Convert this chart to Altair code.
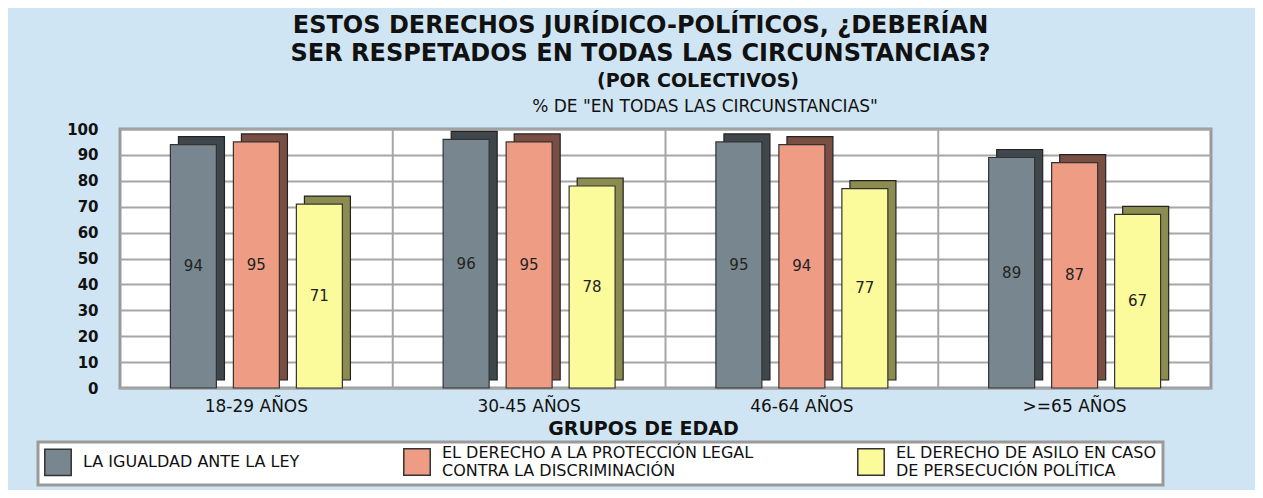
import json
import altair as alt
import pandas as pd

# ---- data -------------------------------------------------------------
groups = ["18-29 años", "30-45 años", "46-64 años", ">=65 años"]
series = [
    "La igualdad ante la ley",
    "El derecho a la protección legal contra la discriminación",
    "El derecho de asilo en caso de persecución política",
]
series_lines = [
    ["La igualdad ante la ley"],
    ["El derecho a la protección legal", "contra la discriminación"],
    ["El derecho de asilo en caso", "de persecución política"],
]
igualdad = [94, 96, 95, 89]
proteccion = [95, 95, 94, 87]
asilo = [71, 78, 77, 67]

title_lines = ["Estos derechos jurídico-políticos, ¿deberían",
               "ser respetados en todas las circunstancias?"]
subtitle_1 = ["(Por colectivos)"]
subtitle_2 = ['% de "en todas las circunstancias"']
x_title = "Grupos de edad"

# ---- styling ----------------------------------------------------------
FONT = "DejaVu Sans"
front_colors = ["#78878f", "#ee9c84", "#fbfb9c"]
shade_colors = ["#3f474c", "#7a4f43", "#8c8c50"]
grid_color = "#a6a6a6"

rows = []
for s, vals in zip(series, [igualdad, proteccion, asilo]):
    for g, v in zip(groups, vals):
        rows.append({"grupo": g, "serie": s, "valor": v})
df = pd.DataFrame(rows)

label_expr_parts = []
for name, lines in zip(series, series_lines):
    label_expr_parts.append(
        f"datum.label == {json.dumps(name)} ? {json.dumps([l.upper() for l in lines])}")
legend_label_expr = " : ".join(label_expr_parts) + " : datum.label"
single_line = [n for n, l in zip(series, series_lines) if len(l) == 1]
baseline_signal = (f"datum && indexof({json.dumps(single_line)}, datum.value) >= 0"
                   " ? 'middle' : 'line-bottom'")

x_axis = alt.Axis(
    title=x_title.upper(), labelExpr="upper(datum.label)", labelAngle=0,
    bandPosition=0.46,
    labelFont=FONT, labelFontSize=17, labelColor="#111", labelPadding=10,
    titleFont=FONT, titleFontSize=19, titleFontWeight="bold", titleColor="#111",
    titlePadding=5, titleX=523, ticks=False, domain=False, grid=False,
)
x_enc = alt.X("grupo:N", sort=groups,
              scale=alt.Scale(paddingInner=0, paddingOuter=0), axis=x_axis)
xoff_enc = alt.XOffset("serie:N", sort=series,
                       scale=alt.Scale(paddingInner=0.27, paddingOuter=0.8))
xoff_shadow = alt.XOffset("serie:N", sort=series,
                          scale=alt.Scale(paddingInner=0.27, paddingOuter=0.8,
                                          align=0.58))
y_axis = alt.Axis(
    title=None, values=list(range(0, 101, 10)), labelFont=FONT,
    labelFontSize=15, labelFontWeight="bold", labelColor="#111",
    labelPadding=22, labelOverlap=False, ticks=False, domain=False,
    grid=True, gridColor=grid_color, gridWidth=2,
)
y_scale = alt.Scale(domain=[0, 100], nice=False)
y_enc = alt.Y("valor:Q", scale=y_scale, axis=y_axis)

base = alt.Chart(df)

rules = alt.Chart(pd.DataFrame({"grupo": groups[1:]})).mark_rule(
    color=grid_color, strokeWidth=2
).encode(x=alt.X("grupo:N", sort=groups, bandPosition=0,
                 scale=alt.Scale(paddingInner=0, paddingOuter=0), axis=x_axis))

shadow = base.mark_bar(yOffset=-8, stroke="#222", strokeWidth=1.2).encode(
    x=x_enc, xOffset=xoff_shadow, y=y_enc,
    color=alt.Color("serie:N", sort=series,
                    scale=alt.Scale(domain=series, range=shade_colors), legend=None),
)

front = base.mark_bar(stroke="#333", strokeWidth=1.2).encode(
    x=x_enc, xOffset=xoff_enc, y=y_enc,
    color=alt.Color(
        "serie:N", sort=series, scale=alt.Scale(domain=series, range=front_colors),
        legend=alt.Legend(
            title=None, orient="none", legendX=-82, legendY=313,
            direction="horizontal", columns=3, fillColor="white",
            strokeColor="#9a9a9a", padding=6,
            symbolType="square", symbolSize=700, symbolStrokeColor="#333",
            symbolStrokeWidth=1.5, symbolOpacity=1,
            labelFont=FONT, labelFontSize=16, labelColor="#111",
            labelOffset=11, columnPadding=100, labelLimit=600,
            labelBaseline={"expr": baseline_signal},
            labelExpr=legend_label_expr,
        ),
    ),
)

values = base.mark_text(font=FONT, fontSize=15, color="#222").transform_calculate(
    mid="datum.valor / 2"
).encode(
    x=x_enc, xOffset=xoff_enc,
    y=alt.Y("mid:Q", scale=y_scale, axis=y_axis),
    text=alt.Text("valor:Q"),
)

sub1 = alt.Chart(pd.DataFrame({"t": [s.upper() for s in subtitle_1]})).mark_text(
    font=FONT, fontSize=19, fontWeight="bold", color="#111"
).encode(x=alt.value(578), y=alt.value(-48), text="t:N")

sub2 = alt.Chart(pd.DataFrame({"t": [s.upper() for s in subtitle_2]})).mark_text(
    font=FONT, fontSize=17, color="#111"
).encode(x=alt.value(585), y=alt.value(-22), text="t:N")

front_group = alt.layer(front, values)

chart = alt.layer(rules, shadow, front_group, sub1, sub2).resolve_scale(
    xOffset="independent", color="independent"
).properties(
    width=1091, height=259,
    padding={"left": 112, "top": 121, "right": 44, "bottom": 102},
    autosize=alt.AutoSizeParams(type="none"),
    title=alt.TitleParams(
        text=[t.upper() for t in title_lines], font=FONT, fontSize=24,
        fontWeight="bold", color="#111", anchor="middle", dx=-25,
        lineHeight=28, offset=6,
    ),
).configure(background="#d0e5f3").configure_view(
    fill="white", stroke="#9a9a9a", strokeWidth=3
).configure_legend(strokeWidth=3)

chart.save("out.html", embed_options={"renderer": "svg", "actions": False})
